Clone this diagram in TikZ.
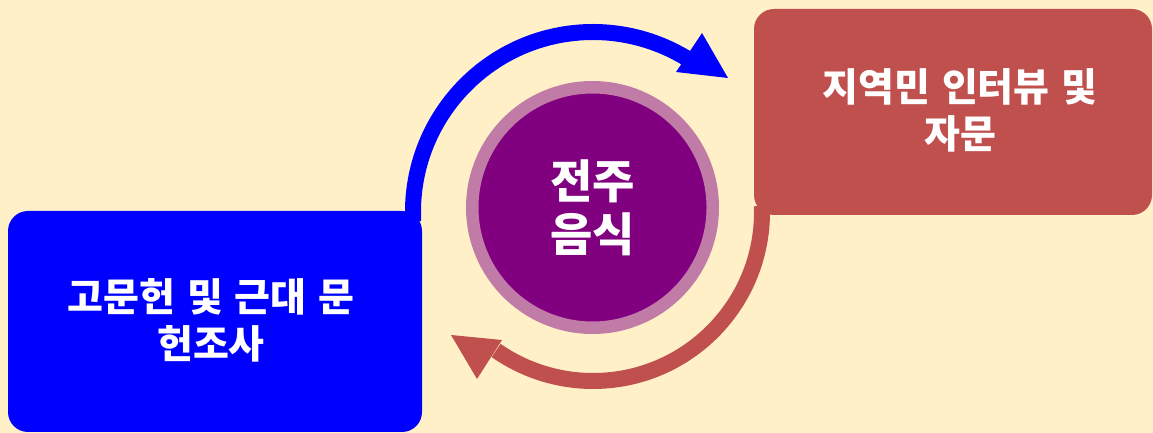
\documentclass[tikz,border=0pt]{standalone}
\usepackage{fontspec}
\setmainfont{Noto Sans CJK KR}
\usetikzlibrary{calc}
\definecolor{bg}{HTML}{FFF0C8}
\definecolor{boxblue}{HTML}{0000FF}
\definecolor{boxred}{HTML}{C0504D}
\definecolor{core}{HTML}{800080}
\definecolor{ring}{HTML}{C07CA6}
\begin{document}
\begin{tikzpicture}[x=1pt,y=1pt,
  box/.style={rounded corners=20pt, inner sep=0pt, draw=none, outer sep=0pt},
  lbl/.style={text=white, font=\bfseries\fontsize{39}{47}\selectfont, align=center, inner sep=0pt},
  cyc/.style={line width=16pt}]
\fill[bg] (0,0) rectangle (1153,433);
\useasboundingbox (0,0) rectangle (1153,433);
\coordinate (C) at (593,221);
% cycle arrows
\coordinate (bs) at ($(C)+(183:180)$);
\draw[cyc, boxblue] (bs) arc[start angle=183, end angle=58, radius=180] coordinate (be);
\coordinate (bt) at (728,355);
\fill[boxblue] (702,400) -- (bt) -- (676,361) -- cycle;
\coordinate (rs) at ($(C)+(2:169)$);
\draw[cyc, boxred] (rs) arc[start angle=2, end angle=-125, radius=169] coordinate (re);
\coordinate (rt) at (451,98);
\fill[boxred] (502,93) -- (rt) -- (477,54) -- cycle;
% boxes
\node[box, fill=boxblue, minimum width=414pt, minimum height=221pt] (lit) at (215,111.5) {};
\node[box, fill=boxred, minimum width=398pt, minimum height=206pt] (intv) at (953,321) {};
\node[circle, fill=core, draw=ring, line width=12.5pt, minimum size=240.5pt, inner sep=0pt] (food) at (592.5,225.5) {};
% labels
\node[lbl] (litT) at (211,113) {고문헌\hspace{12pt}및\hspace{12pt}근대\hspace{12pt}문\\헌조사};
\node[lbl] (intvT) at (960,323) {지역민\hspace{12pt}인터뷰\hspace{12pt}및\\자문};
\node[lbl, font=\bfseries\fontsize{46}{53}\selectfont] (foodT) at (592.5,225) {전주\\음식};
\end{tikzpicture}
\end{document}
